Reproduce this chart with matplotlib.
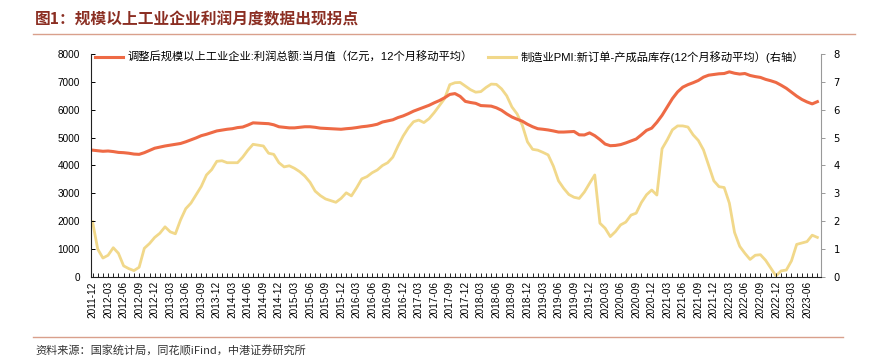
import matplotlib
matplotlib.use("Agg")
import matplotlib.pyplot as plt
import numpy as np
import pandas as pd
from matplotlib.lines import Line2D

plt.rcParams['font.family'] = ['Liberation Sans', 'Noto Sans CJK SC', 'DejaVu Sans']

# ---------------- data ----------------
months = pd.date_range("2011-12-01", periods=141, freq="MS").strftime("%Y-%m").tolist()

profit = [
    4550, 4530, 4510, 4520, 4500, 4470, 4460, 4440, 4410, 4400,
    4460, 4540, 4620, 4660, 4700, 4730, 4760, 4790, 4850, 4920,
    4990, 5070, 5120, 5180, 5240, 5270, 5300, 5320, 5360, 5380,
    5450, 5530, 5520, 5510, 5500, 5460, 5390, 5370, 5350, 5350,
    5370, 5390, 5390, 5370, 5340, 5330, 5320, 5310, 5300, 5320,
    5335, 5360, 5390, 5410, 5440, 5480, 5560, 5600, 5640, 5720,
    5780, 5860, 5950, 6020, 6090, 6160, 6250, 6330, 6430, 6550,
    6580, 6480, 6300, 6260, 6230, 6150, 6140, 6130, 6070, 5980,
    5850, 5740, 5660, 5590, 5480, 5390, 5320, 5300, 5275, 5240,
    5200, 5200, 5210, 5220, 5100, 5095, 5170, 5070, 4930, 4770,
    4710, 4720, 4750, 4810, 4880, 4950, 5100, 5260, 5340, 5550,
    5800, 6100, 6400, 6640, 6810, 6900, 6970, 7050, 7170, 7240,
    7265, 7290, 7300, 7360, 7310, 7280, 7300, 7230, 7190, 7160,
    7090, 7040, 6980, 6880, 6770, 6630, 6490, 6370, 6280, 6210,
    6290,
]

pmi_gap = [
    1.98, 1.00, 0.68, 0.78, 1.05, 0.85, 0.40, 0.30, 0.23, 0.35,
    1.03, 1.20, 1.42, 1.57, 1.80, 1.62, 1.55, 2.05, 2.45, 2.65,
    2.95, 3.25, 3.66, 3.85, 4.15, 4.17, 4.10, 4.10, 4.10, 4.30,
    4.55, 4.76, 4.73, 4.70, 4.44, 4.40, 4.10, 3.95, 3.99, 3.90,
    3.78, 3.62, 3.40, 3.08, 2.92, 2.80, 2.74, 2.68, 2.82, 3.02,
    2.91, 3.20, 3.52, 3.60, 3.74, 3.84, 4.00, 4.10, 4.30, 4.70,
    5.06, 5.35, 5.57, 5.63, 5.54, 5.68, 5.90, 6.15, 6.40, 6.90,
    6.97, 6.98, 6.85, 6.72, 6.63, 6.65, 6.80, 6.92, 6.91, 6.75,
    6.50, 6.10, 5.85, 5.45, 4.85, 4.58, 4.55, 4.47, 4.38, 3.98,
    3.45, 3.18, 2.96, 2.86, 2.82, 3.05, 3.36, 3.66, 1.93, 1.75,
    1.45, 1.63, 1.87, 1.97, 2.22, 2.29, 2.67, 2.95, 3.12, 2.94,
    4.60, 4.92, 5.28, 5.42, 5.42, 5.38, 5.10, 4.90, 4.56, 4.00,
    3.45, 3.24, 3.21, 2.65, 1.60, 1.10, 0.85, 0.63, 0.78, 0.80,
    0.60, 0.32, 0.04, 0.22, 0.25, 0.58, 1.17, 1.22, 1.27, 1.50,
    1.42,
]

label_profit = "调整后规模以上工业企业:利润总额:当月值（亿元，12个月移动平均）"
label_pmi = "制造业PMI:新订单-产成品库存(12个月移动平均）(右轴）"
title = "图1：规模以上工业企业利润月度数据出现拐点"
source = "资料来源：国家统计局，同花顺iFind，中港证券研究所"

# ---------------- figure ----------------
W, H = 883, 364
fig = plt.figure(figsize=(W / 100, H / 100), dpi=100)
ax = fig.add_axes([91 / W, 1 - 277 / H, (821 - 91) / W, (277 - 54) / H])
ax2 = ax.twinx()

c_orange = "#EE6A45"
c_yellow = "#F1D88A"

x = np.arange(len(months))
ax2.plot(x, pmi_gap, color=c_yellow, lw=2.0, solid_joinstyle="round")
ax.plot(x, profit, color=c_orange, lw=2.2, solid_joinstyle="round")
ax.set_zorder(ax2.get_zorder() + 1)
ax.patch.set_visible(False)

ax.set_xlim(-0.3, 140.7)
ax.set_ylim(0, 8000)
ax2.set_ylim(0, 8)
ax.set_yticks(np.arange(0, 8001, 1000))
ax2.set_yticks(np.arange(0, 9, 1))

major = [i for i in x if i % 3 == 0]
ax.set_xticks(major)
ax.set_xticklabels([months[i] for i in major], rotation=90, fontsize=7.2)
ax.set_xticks(x, minor=True)

for a in (ax, ax2):
    a.spines['top'].set_visible(False)
ax.spines['right'].set_visible(False)
ax2.spines['left'].set_visible(False)
ax2.spines['bottom'].set_visible(False)
ax2.spines['right'].set_color("#999999")
ax.spines['left'].set_color("#222222")
ax.spines['bottom'].set_color("#222222")

ax.tick_params(axis='x', which='both', direction='in', length=3, width=0.7, pad=3, color="#222222")
ax.tick_params(axis='y', direction='in', length=3, width=0.7, labelsize=7.2, pad=8)
ax2.tick_params(axis='y', direction='out', length=3, width=0.7, labelsize=7.2, color="#999999", pad=6)
for t in ax2.get_yticklabels():
    t.set_fontfamily(['DejaVu Sans'])

handles = [Line2D([], [], color=c_orange, lw=2.2), Line2D([], [], color=c_yellow, lw=2.2)]
fig.legend(handles, [label_profit, label_pmi], loc='center left',
           bbox_to_anchor=(95 / W, 1 - 57 / H), ncol=2, frameon=False,
           fontsize=8.1, handlelength=2.5, handletextpad=0.4, columnspacing=1.3,
           borderaxespad=0, borderpad=0)

fig.text(35 / W, 1 - 19 / H, title, fontsize=11.3, fontweight='bold', color="#8B2E22",
         va='center', ha='left', family=['Noto Sans CJK SC', 'DejaVu Sans'])
fig.add_artist(Line2D([33 / W, 855 / W], [1 - 34 / H, 1 - 34 / H], color="#D9A08C", lw=1.0))
fig.add_artist(Line2D([33 / W, 843 / W], [1 - 337 / H, 1 - 337 / H], color="#D9A08C", lw=1.0))
fig.text(35 / W, 1 - 351 / H, source, fontsize=8.0, color="#333333", style='italic',
         va='center', ha='left', family=['Noto Sans CJK SC', 'DejaVu Sans'])

fig.savefig("out.png", dpi=100)
